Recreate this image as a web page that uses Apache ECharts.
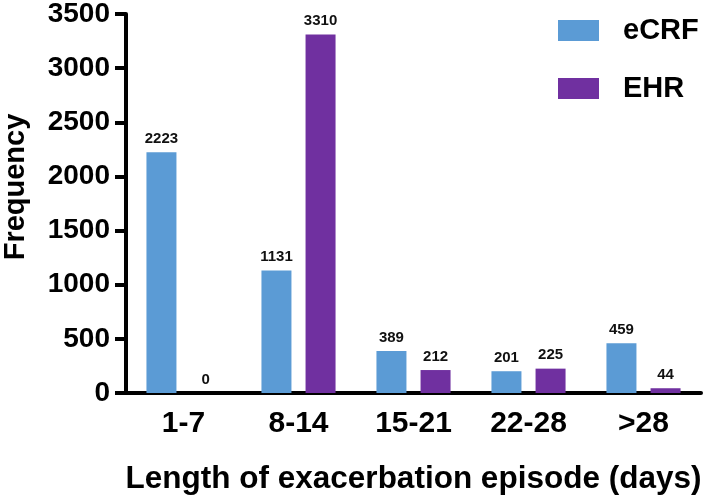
<!DOCTYPE html>
<html>
<head>
<meta charset="utf-8">
<script src="https://cdn.jsdelivr.net/npm/echarts@6/dist/echarts.min.js"></script>
<style>html,body{margin:0;padding:0;background:#fff}#c{width:709px;height:501px}</style>
</head>
<body>
<div id="c"></div>
<script>
var categories = ['1-7', '8-14', '15-21', '22-28', '>28'];
var ecrfValues = [2223, 1131, 389, 201, 459];
var ehrValues = [0, 3310, 212, 225, 44];
var yTicks = [0, 500, 1000, 1500, 2000, 2500, 3000, 3500];

var FONT = 'Liberation Sans, Arial, sans-serif';
var chart = echarts.init(document.getElementById('c'), null, {renderer: 'canvas'});
var labelCfg = {show: true, position: 'top', distance: 6, color: '#111', fontWeight: 'bold', fontSize: 15, fontFamily: FONT};
chart.setOption({
  animation: false,
  backgroundColor: '#fff',
  grid: {left: 126, right: 8, top: 14, bottom: 108, containLabel: false},
  legend: {
    orient: 'vertical', left: 558, top: 16, itemWidth: 41, itemHeight: 21, itemGap: 29,
    padding: 0, icon: 'rect',
    textStyle: {fontSize: 29, fontWeight: 'bold', color: '#000', fontFamily: FONT, padding: [0, 0, 0, 19]},
    data: ['eCRF', 'EHR']
  },
  xAxis: {
    type: 'category', data: categories,
    name: 'Length of exacerbation episode (days)', nameLocation: 'middle', nameGap: 70,
    nameTextStyle: {fontSize: 31.5, fontWeight: 'bold', color: '#000', fontFamily: FONT},
    axisLine: {lineStyle: {color: '#000', width: 4}},
    axisTick: {alignWithLabel: true, length: 10, lineStyle: {color: '#000', width: 4}},
    axisLabel: {fontSize: 30, fontWeight: 'bold', color: '#000', margin: 16, fontFamily: FONT}
  },
  yAxis: {
    type: 'value', min: yTicks[0], max: yTicks[yTicks.length - 1], interval: yTicks[1] - yTicks[0],
    axisLine: {show: true, lineStyle: {color: '#000', width: 4}},
    axisTick: {show: true, length: 11, lineStyle: {color: '#000', width: 4}},
    axisLabel: {fontSize: 28, fontWeight: 'bold', color: '#000', margin: 16, fontFamily: FONT,
      formatter: function (v) { return String(v); }},
    splitLine: {show: false}
  },
  graphic: [{
    type: 'text', x: 16, y: 187, rotation: Math.PI / 2,
    style: {text: 'Frequency', fontSize: 29, fontWeight: 'bold', fill: '#000', fontFamily: FONT, align: 'center', verticalAlign: 'middle'}
  }],
  series: [
    {name: 'eCRF', type: 'bar', data: ecrfValues, barWidth: 30, barGap: '47%', itemStyle: {color: '#5B9BD5'}, label: labelCfg},
    {name: 'EHR', type: 'bar', data: ehrValues, barWidth: 30, barGap: '47%', itemStyle: {color: '#7030A0'}, label: labelCfg}
  ]
});
</script>
</body>
</html>
